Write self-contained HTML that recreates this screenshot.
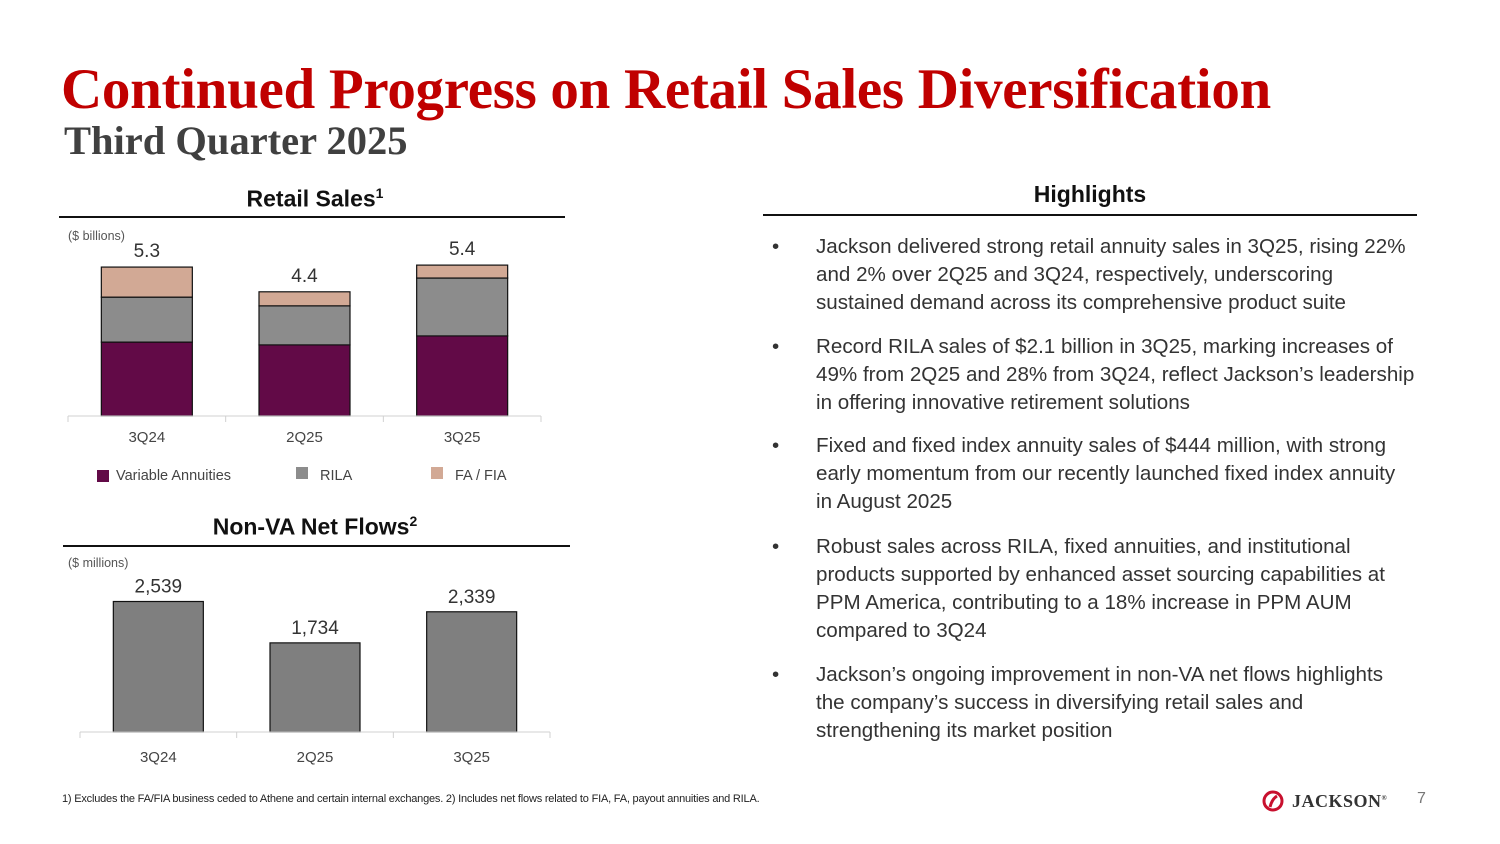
<!DOCTYPE html>
<html><head><meta charset="utf-8">
<style>
body{margin:0;width:1500px;height:844px;background:#fff;position:relative;overflow:hidden;font-family:"Liberation Sans",sans-serif;}
.abs{position:absolute;}
#title{left:61px;top:57px;font-family:"Liberation Serif",serif;font-weight:bold;font-size:57px;color:#c00000;white-space:nowrap;letter-spacing:-0.3px;line-height:66px}
#subtitle{left:64px;top:117px;font-family:"Liberation Serif",serif;font-weight:bold;font-size:40.5px;color:#404040;white-space:nowrap}
.hdr{font-weight:bold;font-size:23px;color:#111;text-align:center;white-space:nowrap}
.rule{height:2px;background:#111}
.bul{left:772px;font-size:20.6px;color:#333;line-height:28px;white-space:nowrap}
.bul span.dot{position:absolute;left:0;top:0}
.bul div.t{margin-left:44px}
</style></head><body>
<div id="title" class="abs">Continued Progress on Retail Sales Diversification</div>
<div id="subtitle" class="abs">Third Quarter 2025</div>

<div class="abs hdr" style="left:60px;width:510px;top:185px">Retail Sales<sup style="font-size:14px">1</sup></div>
<div class="abs rule" style="left:59px;width:506px;top:216px"></div>
<div class="abs hdr" style="left:60px;width:510px;top:513px">Non-VA Net Flows<sup style="font-size:14px">2</sup></div>
<div class="abs rule" style="left:63px;width:507px;top:545px"></div>

<svg class="abs" style="left:0;top:0" width="600" height="844" id="charts"></svg>

<div class="abs hdr" style="left:763px;width:654px;top:181px">Highlights</div>
<div class="abs rule" style="left:763px;width:654px;top:214px"></div>

<div class="abs bul" style="top:233px"><span class="dot">•</span><div class="t">Jackson delivered strong retail annuity sales in 3Q25, rising 22%<br>and 2% over 2Q25 and 3Q24, respectively, underscoring<br>sustained demand across its comprehensive product suite</div></div>
<div class="abs bul" style="top:333px"><span class="dot">•</span><div class="t">Record RILA sales of $2.1 billion in 3Q25, marking increases of<br>49% from 2Q25 and 28% from 3Q24, reflect Jackson’s leadership<br>in offering innovative retirement solutions</div></div>
<div class="abs bul" style="top:432px"><span class="dot">•</span><div class="t">Fixed and fixed index annuity sales of $444 million, with strong<br>early momentum from our recently launched fixed index annuity<br>in August 2025</div></div>
<div class="abs bul" style="top:533px"><span class="dot">•</span><div class="t">Robust sales across RILA, fixed annuities, and institutional<br>products supported by enhanced asset sourcing capabilities at<br>PPM America, contributing to a 18% increase in PPM AUM<br>compared to 3Q24</div></div>
<div class="abs bul" style="top:661px"><span class="dot">•</span><div class="t">Jackson’s ongoing improvement in non-VA net flows highlights<br>the company’s success in diversifying retail sales and<br>strengthening its market position</div></div>

<div class="abs" style="left:62px;top:793px;font-size:11px;color:#222;white-space:nowrap;letter-spacing:-0.2px">1) Excludes the FA/FIA business ceded to Athene and certain internal exchanges. 2) Includes net flows related to FIA, FA, payout annuities and RILA.</div>
<div class="abs" style="left:1262px;top:790px;width:22px;height:22px"><svg width="22" height="22"><circle cx="11" cy="11" r="9" fill="none" stroke="#c8102e" stroke-width="3"/><path d="M8 17 Q10 9 15 6" stroke="#c8102e" stroke-width="3" fill="none"/></svg></div>
<div class="abs" style="left:1292px;top:791px;font-family:'Liberation Serif',serif;font-weight:bold;font-size:18px;color:#333;letter-spacing:0.5px">JACKSON<sup style="font-size:7px">®</sup></div>
<div class="abs" style="left:1417px;top:790px;font-size:16px;color:#777">7</div>

<script>
const categories=["3Q24","2Q25","3Q25"];
const vaValues=[2.63,2.53,2.85];
const rilaValues=[1.6,1.39,2.06];
const fiaValues=[1.07,0.5,0.46];
const totalLabels=["5.3","4.4","5.4"];
const netFlows=[2539,1734,2339];
const netFlowLabels=["2,539","1,734","2,339"];

const svg=document.getElementById('charts');
const NS='http://www.w3.org/2000/svg';
function mk(tag,attrs,parent){const e=document.createElementNS(NS,tag);for(const k in attrs)e.setAttribute(k,attrs[k]);(parent||svg).appendChild(e);return e;}
function txt(x,y,s,size,fill,anchor){const t=mk('text',{x:x,y:y,'font-size':size,fill:fill,'text-anchor':anchor||'middle','font-family':'Liberation Sans, sans-serif'});t.textContent=s;return t;}

const r={x0:68,x1:541,base:416,scale:28.1,barW:91};
const rBand=(r.x1-r.x0)/categories.length;
const rx=i=>r.x0+rBand*(i+0.5);
const ry=v=>r.base-v*r.scale;
let t=txt(68,240,'($ billions)',12.5,'#555','start');

const colors=['#620a47','#8c8c8c','#d2a995'];
const names=['va','rila','fia'];
categories.forEach((c,i)=>{
  const segs=[vaValues[i],rilaValues[i],fiaValues[i]];
  let cum=0;
  segs.forEach((v,j)=>{
    const rc=mk('rect',{x:rx(i)-r.barW/2,y:ry(cum+v),width:r.barW,height:v*r.scale,fill:colors[j],stroke:'#111','stroke-width':1.2});
    
    
    cum+=v;
  });
  const l=txt(rx(i),ry(cum)-10,totalLabels[i],19,'#333');
  
  
  const a=txt(rx(i),442,c,15,'#444');
  
  
});
let ax=mk('line',{x1:r.x0,x2:r.x1,y1:r.base,y2:r.base,stroke:'#d0d0d0','stroke-width':1});

for(let k=0;k<=categories.length;k++){const tk=mk('line',{x1:r.x0+rBand*k,x2:r.x0+rBand*k,y1:r.base,y2:r.base+6,stroke:'#d0d0d0'});}
const leg=[[97,'Variable Annuities'],[296,'RILA'],[431,'FA / FIA']];
leg.forEach((L,j)=>{
  const g=mk('g',{});
  
  
  mk('rect',{x:L[0],y:j==0?470:467,width:12,height:12,fill:colors[j]},g);
  const lt=txt(L[0]+(j==0?19:24),480,L[1],14.5,'#444','start');g.appendChild(lt);
});

const n={x0:80,x1:550,base:732,scale:0.0514,barW:90};
const nBand=(n.x1-n.x0)/categories.length;
const nx=i=>n.x0+nBand*(i+0.5);
const ny=v=>n.base-v*n.scale;
t=txt(68,567,'($ millions)',12.5,'#555','start');

categories.forEach((c,i)=>{
  const rc=mk('rect',{x:nx(i)-n.barW/2,y:ny(netFlows[i]),width:n.barW,height:netFlows[i]*n.scale,fill:'#7f7f7f',stroke:'#111','stroke-width':1.2});
  
  
  const l=txt(nx(i),ny(netFlows[i])-9,netFlowLabels[i],19,'#333');
  
  
  const a=txt(nx(i),762,c,15,'#444');
  
  
});
ax=mk('line',{x1:n.x0,x2:n.x1,y1:n.base,y2:n.base,stroke:'#d0d0d0','stroke-width':1});

for(let k=0;k<=categories.length;k++){const tk=mk('line',{x1:n.x0+nBand*k,x2:n.x0+nBand*k,y1:n.base,y2:n.base+6,stroke:'#d0d0d0'});}
</script>
</body></html>
